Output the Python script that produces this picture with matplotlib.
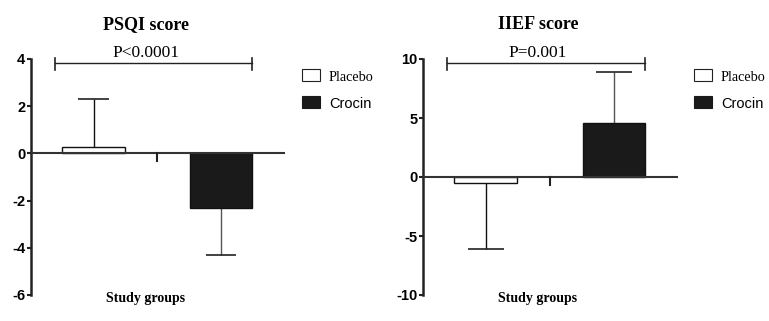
import matplotlib
matplotlib.use("Agg")
import matplotlib.pyplot as plt
from matplotlib import font_manager
from matplotlib.patches import Rectangle
import matplotlib.transforms as mtransforms

# ---------------- data ----------------
groups = ["Placebo", "Crocin"]
psqi_values = [0.27, -2.33]
psqi_errors = [2.04, 1.97]
iief_values = [-0.48, 4.54]
iief_errors = [5.60, 4.32]
psqi_ticks = [-6, -4, -2, 0, 2, 4]
iief_ticks = [-10, -5, 0, 5, 10]
psqi_p = "P<0.0001"
iief_p = "P=0.001"

# ---------------- fonts ----------------
def have(name):
    try:
        font_manager.findfont(font_manager.FontProperties(family=name), fallback_to_default=False)
        return True
    except Exception:
        return False

narrow = "Liberation Sans Narrow" if have("Liberation Sans Narrow") else "Liberation Sans"
serif = "Liberation Serif"
sans = "Liberation Sans"

W, H = 769, 321
fig = plt.figure(figsize=(W / 100, H / 100), dpi=100)

def fx(px):
    return px / W

def fy(py):
    return 1 - py / H

def panel(ax_left, ax_right, values, errors, ticks, ylim, title, ptext, text_cx,
          legend_x, capw):
    ax = fig.add_axes([fx(ax_left), fy(295), fx(ax_right - ax_left), (295 - 59) / H])
    x = [0, 1]
    ax.set_xlim(-(0.49), 1.50)
    ax.set_ylim(*ylim)
    ax.bar(x, values, width=0.49, color=["white", "#1a1a1a"], edgecolor="#111111",
           linewidth=1.0, zorder=3)
    for xi, v, e in zip(x, values, errors):
        end = v + (e if v >= 0 else -e)
        ax.vlines(xi, v, end, color="#555555" if xi == 1 else "#111111", linewidth=1.0, zorder=2)
        ax.hlines(end, xi - capw / 2, xi + capw / 2, color="#222222", linewidth=1.2, zorder=2)
    ax.axhline(0, color="#333333", linewidth=1.5, zorder=4)
    # center tick on zero line
    trans0 = mtransforms.blended_transform_factory(ax.transData, ax.transData)
    ax.plot([0.5, 0.5], [0, 0 - (ylim[1] - ylim[0]) * 8 / 236], color="#222222",
            linewidth=1.5, zorder=4, transform=trans0, clip_on=False)
    for s in ["top", "right", "bottom"]:
        ax.spines[s].set_visible(False)
    ax.spines["left"].set_linewidth(1.8)
    ax.spines["left"].set_color("#222222")
    ax.set_xticks([])
    ax.set_yticks(ticks)
    ax.set_yticklabels([str(t) for t in ticks], fontfamily=narrow, fontweight="bold",
                       fontsize=10.5)
    ax.tick_params(axis="y", length=3, width=1.5, color="#222222", pad=1)
    # significance bracket
    bt = mtransforms.blended_transform_factory(ax.transData, ax.transAxes)
    x0, x1 = -0.30, 1.245
    ax.plot([x0, x1], [0.983, 0.983], color="#222222", linewidth=1.0, transform=bt, clip_on=False)
    for xe in (x0, x1):
        ax.plot([xe, xe], [1.004, 0.955], color="#222222", linewidth=1.2, transform=bt, clip_on=False)
    # texts
    fig.text(fx(text_cx), fy(29), title, ha="center", va="baseline", fontfamily=serif,
             fontweight="bold", fontsize=13)
    fig.text(fx(text_cx), fy(57), ptext, ha="center", va="baseline", fontfamily=serif,
             fontsize=12.5)
    fig.text(fx(text_cx), fy(302), "Study groups", ha="center", va="baseline", fontfamily=serif,
             fontweight="bold", fontsize=10)
    # legend
    bw = 18
    fig.patches.append(Rectangle((fx(legend_x), fy(81)), fx(bw), 12 / H, facecolor="white",
                                 edgecolor="#222222", linewidth=0.8, transform=fig.transFigure))
    fig.patches.append(Rectangle((fx(legend_x), fy(108)), fx(bw), 12 / H, facecolor="#1a1a1a",
                                 edgecolor="#1a1a1a", linewidth=0.8, transform=fig.transFigure))
    fig.text(fx(legend_x + 27), fy(81), groups[0], ha="left", va="baseline", fontfamily=serif,
             fontsize=10.3)
    fig.text(fx(legend_x + 27), fy(108), groups[1], ha="left", va="baseline", fontfamily=sans,
             fontsize=10.5)
    return ax

panel(31, 285, psqi_values, psqi_errors, psqi_ticks, (-6, 4), "PSQI score", psqi_p, 146,
      302, 0.24)
panel(423, 678, iief_values, iief_errors, iief_ticks, (-10, 10), "IIEF score", iief_p, 538,
      694, 0.28)

fig.savefig("out.png", dpi=100)
